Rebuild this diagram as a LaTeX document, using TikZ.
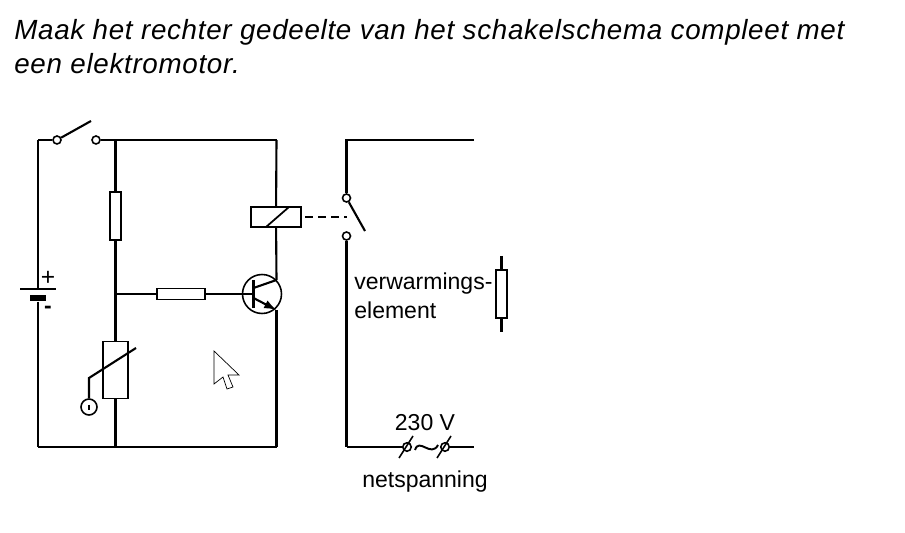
\documentclass[tikz,border=0pt]{standalone}
\usepackage{fontspec}
\usetikzlibrary{arrows.meta}
\setmainfont{Liberation Sans}
\newfontfamily\headfont[LetterSpace=2.5]{Liberation Sans}
\tikzset{
	wire/.style={line width=1.2pt},
	contact/.style={circle, draw, line width=0.9pt, fill=white, inner sep=0pt, minimum size=0.16cm},
	resbox/.style={rectangle, draw, line width=0.9pt, inner sep=0pt},
	tekst/.style={inner sep=0pt, font=\fontsize{13.1}{15}\selectfont},
	vraag/.style={anchor=base west, inner sep=0pt, font=\fontsize{15.8}{18}\selectfont\headfont\itshape}
}
\begin{document}
\begin{tikzpicture}[x=0.02cm, y=-0.02cm]
	\useasboundingbox (0, 0) rectangle (905, 533);
	
	\node[vraag] (vraag1) at (14, 39.5) {Maak het rechter gedeelte van het schakelschema compleet met};
	\node[vraag] (vraag2) at (14, 74) {een elektromotor.};
	
	% hoekpunten links
	\coordinate (lb) at (38, 140);
	\coordinate (lo) at (38, 447);
	\coordinate (mb) at (115.5, 140);
	\coordinate (mm) at (115.5, 294);
	\coordinate (mo) at (115.5, 447);
	\coordinate (rb) at (276.5, 140);
	\coordinate (ro) at (276.5, 447);
	
	% schakelaar
	\node[contact] (s1) at (57, 140) {};
	\node[contact] (s2) at (96, 140) {};
	\coordinate (s3) at (91, 121);
	\draw[wire] (lb) -- (s1);
	\draw[wire] (s1) -- (s3);
	\draw[wire] (s2) -- (rb);
	
	% batterij
	\coordinate (bat1) at (38, 289);
	\node[fill=black, inner sep=0pt, minimum width=0.32cm, minimum height=0.13cm] (bat2) at (38, 298) {};
	\node[minimum width=0.7cm, minimum height=0pt, inner sep=0pt] (plaat) at (bat1) {};
	\draw[wire] (plaat.west) -- (plaat.east);
	\draw[wire] (lb) -- (bat1);
	\draw[wire] (bat2) -- (lo);
	\node[tekst, font=\fontsize{14}{14}\selectfont] (plus) at (48, 278) {+};
	\node[tekst, font=\fontsize{13}{14}\selectfont\bfseries] (min) at (48, 310) {-};
	
	% weerstanden
	\node[resbox, minimum width=0.22cm, minimum height=0.96cm] (r1) at (115.5, 216) {};
	\node[resbox, minimum width=0.96cm, minimum height=0.22cm] (r2) at (181, 294) {};
	\node[resbox, minimum width=0.5cm, minimum height=1.14cm] (ntc) at (115.5, 370) {};
	\draw[wire] (mb) -- (r1);
	\draw[wire] (r1) -- (mm);
	\draw[wire] (mm) -- (ntc);
	\draw[wire] (ntc) -- (mo);
	\draw[wire] (mm) -- (r2);
	
	% temperatuursensor
	\node[circle, draw, line width=0.9pt, inner sep=0pt, minimum size=0.32cm] (sens) at (89, 407) {};
	\coordinate (k1) at (89, 378);
	\coordinate (k2) at (136, 348);
	\draw[wire] (sens) -- (k1) -- (k2);
	\draw[line width=1.3pt] (sens.center) ++(0, -2.5) -- ++(0, 5);
	
	% transistor
	\node[circle, draw, line width=0.9pt, inner sep=0pt, minimum size=0.78cm] (tr) at (262, 294) {};
	\coordinate (tb) at (253.5, 294);
	\coordinate (tc) at (276.5, 280);
	\coordinate (te) at (276.5, 310);
	\draw[wire] (r2) -- (tb);
	\draw[line width=1.6pt] (253.5, 280) -- (253.5, 308);
	\draw[wire] (253.5, 288) -- (tc);
	\draw[wire, -{Latex[length=7pt, width=5pt]}] (253.5, 298) -- (te);
	
	% relais
	\node[resbox, minimum width=1cm, minimum height=0.41cm] (rel) at (276, 217) {};
	\draw[wire] (rb) -- (rel);
	\draw[wire] (rel) -- (tc);
	\draw[wire] (te) -- (ro);
	\draw[wire] (lo) -- (ro);
	\draw[line width=1pt] (266, 227) -- (289, 207);
	
	% rechterdeel
	\coordinate (a1) at (474, 140);
	\coordinate (a2) at (346.5, 140);
	\coordinate (a3) at (346.5, 447);
	\coordinate (a4) at (474, 447);
	\coordinate (a5) at (365, 231);
	\coordinate (a6) at (346.5, 217);
	\node[contact] (c1) at (346.5, 198) {};
	\node[contact] (c2) at (346.5, 236) {};
	\draw[wire] (a1) -- (a2) -- (c1);
	\draw[wire] (c1) -- (a5);
	\draw[wire] (c2) -- (a3);
	\draw[wire, dash pattern=on 4.2pt off 3.2pt, dash phase=-2pt] (rel.east) -- (a6);
	
	% netspanning
	\node[circle, draw, line width=0.9pt, inner sep=0pt, minimum size=0.17cm] (f1) at (407, 447) {};
	\node[circle, draw, line width=0.9pt, inner sep=0pt, minimum size=0.17cm] (f2) at (445, 447) {};
	\draw[wire] (a3) -- (f1);
	\draw[wire] (f2) -- (a4);
	\foreach \f in {f1, f2}
	\draw[line width=0.9pt] (\f.center) ++(-8, 11) -- ++(14, -22);
	\draw[line width=1.1pt] (f1.east) ++(3, 3) .. controls (419, 437) and (431, 458) .. (438, 445);
	\node[tekst, anchor=base] (volt) at (425, 430) {230 V};
	\node[tekst, anchor=base] (net) at (425, 487) {netspanning};
	
	% verwarmingselement
	\node[resbox, minimum width=0.22cm, minimum height=0.96cm] (heat) at (501.5, 294) {};
	\coordinate (h1) at (501.5, 256);
	\coordinate (h2) at (501.5, 332);
	\draw[wire] (h1) -- (heat);
	\draw[wire] (heat) -- (h2);
	\node[tekst, anchor=base west] (verw) at (354, 290) {verwarmings-};
	\node[tekst, anchor=base west] (elem) at (354, 318) {element};
	
	% muisaanwijzer
	\draw[line width=0.4pt, fill=white] (214, 351) -- (239, 375) -- (228, 375) -- (233, 387) -- (227, 389) -- (223, 377) -- (214, 384) -- cycle;
\end{tikzpicture}
\end{document}
